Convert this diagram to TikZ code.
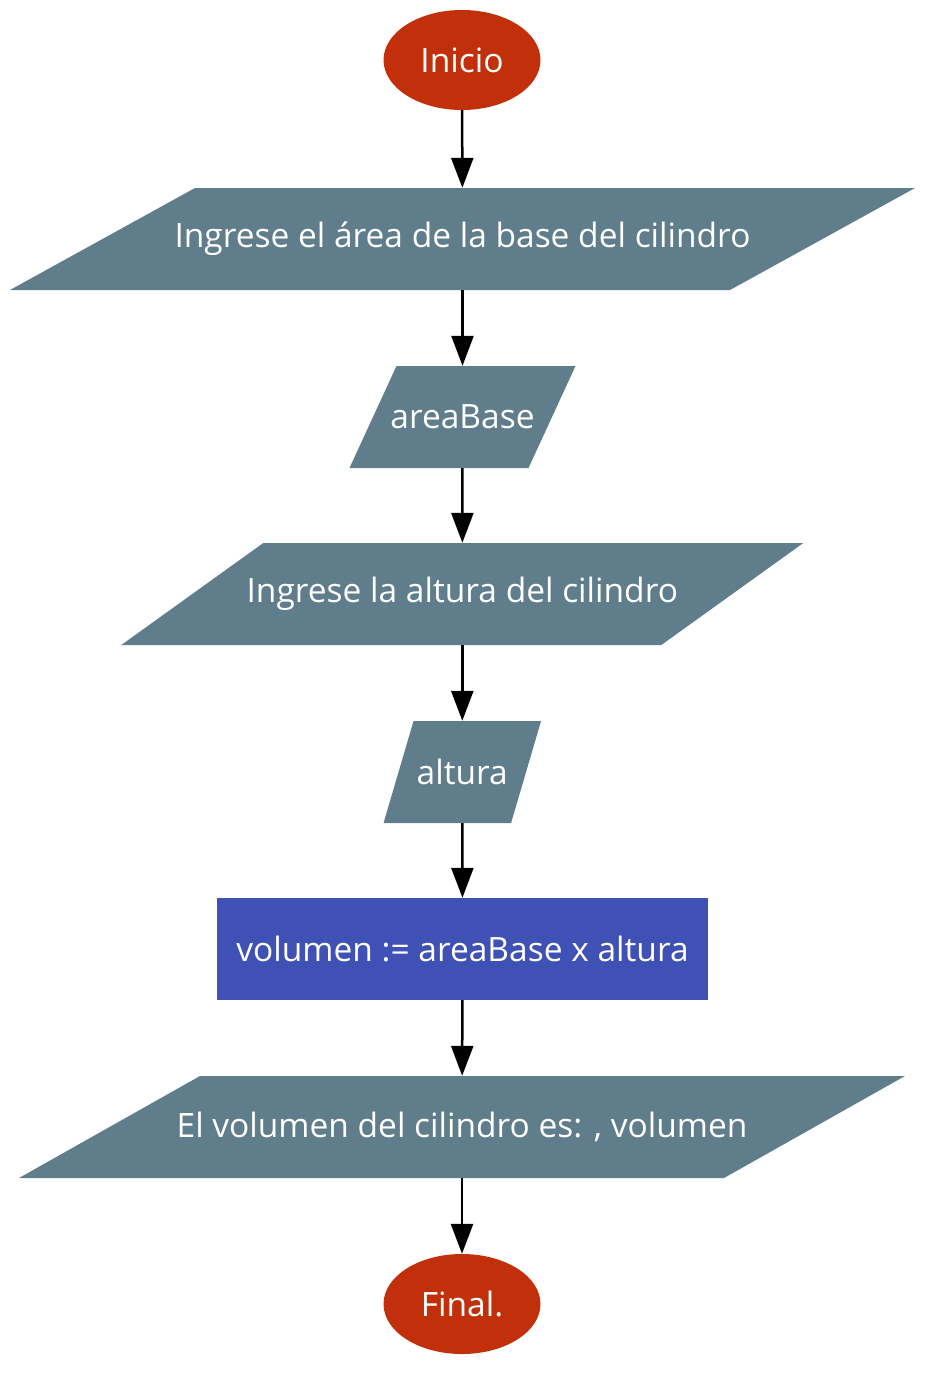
\documentclass[tikz,border=0pt]{standalone}
\usepackage{fontspec}
\setmainfont{Open Sans}
\usetikzlibrary{arrows.meta,shapes.geometric}
\definecolor{termred}{HTML}{C1300A}
\definecolor{iogrey}{HTML}{607D8B}
\definecolor{procblue}{HTML}{3F51B5}
\tikzset{
  lbl/.style={text=white,font=\fontsize{33.5}{40}\selectfont,inner sep=0pt,minimum height=102pt},
  term/.style={lbl,ellipse,fill=termred,minimum width=157pt,minimum height=100pt},
  proc/.style={lbl,rectangle,fill=procblue},
  flow/.style={line width=2.5pt,-{Triangle[length=30pt,width=22pt]}},
}
% \iobox{name}{cx}{cy}{topwidth}{slant}{text}
\newcommand{\iobox}[6]{%
  \fill[iogrey] (#2-#4/2+#5/2,#3-51) -- (#2+#4/2+#5/2,#3-51) -- (#2+#4/2-#5/2,#3+51) -- (#2-#4/2-#5/2,#3+51) -- cycle;
  \node[lbl,minimum width=#4pt] (#1) at (#2,#3) {#6};
}
\begin{document}
\begin{tikzpicture}[x=1pt,y=-1pt]
\useasboundingbox (0,0) rectangle (939,1381);
\node[term] (inicio) at (462,60) {Inicio};
\iobox{in1}{462.5}{239}{720}{185}{Ingrese el área de la base del cilindro}
\iobox{v1}{462.5}{417}{179}{47}{areaBase}
\iobox{in2}{462.3}{594}{540}{142}{Ingrese la altura del cilindro}
\iobox{v2}{462.3}{772}{127.5}{30}{altura}
\node[proc,minimum width=491pt] (calc) at (462.5,949) {volumen := areaBase x altura};
\iobox{out}{462}{1127}{705}{181}{El volumen del cilindro es: , volumen}
\node[term] (final) at (462,1304) {Final.};
\draw[flow] (inicio) -- (in1);
\draw[flow] (in1) -- (v1);
\draw[flow] (v1) -- (in2);
\draw[flow] (in2) -- (v2);
\draw[flow] (v2) -- (calc);
\draw[flow] (calc) -- (out);
\draw[flow] (out) -- (final);
\end{tikzpicture}
\end{document}
